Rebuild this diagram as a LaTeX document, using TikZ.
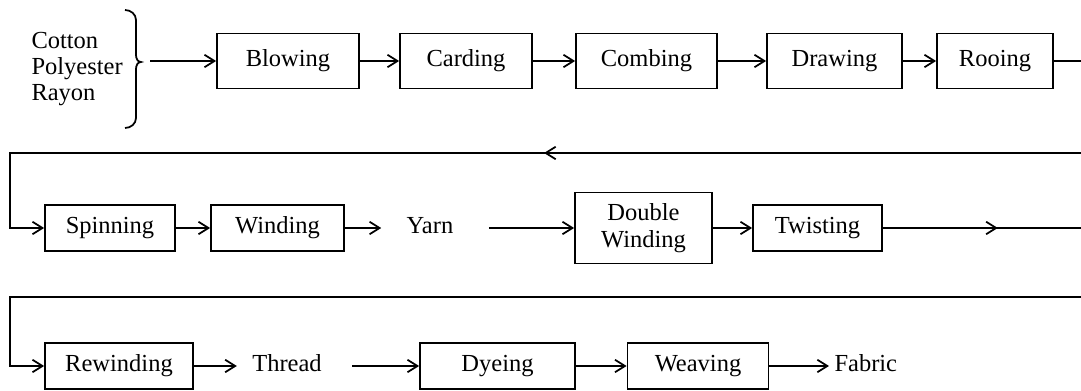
\documentclass[tikz,border=0pt]{standalone}
\usepackage{fontspec}
\setmainfont{Liberation Serif}
\usetikzlibrary{arrows.meta,decorations.markings}

\tikzstyle{stage}=[draw,line width=0.7pt,inner sep=2pt,text height=7pt,text depth=2.2pt,font=\fontsize{9.8}{10.6}\selectfont]
\tikzstyle{word}=[inner sep=2pt,text height=7pt,text depth=2.2pt,font=\fontsize{9.8}{10.6}\selectfont]
\tikzstyle{line}=[draw,line width=0.7pt]
\tikzstyle{flow}=[draw,line width=0.7pt,-{Straight Barb[length=4pt,width=5pt]}]
\tikzstyle{mid arrow}=[postaction={decorate},decoration={markings,
    mark=at position #1 with {\arrow{Straight Barb[length=4pt,width=5pt]}}}]

\begin{document}
\begin{tikzpicture}[x=0.4pt,y=-0.4pt]
    \useasboundingbox (0,0) rectangle (1081,391);

    % raw fibres and the brace that gathers them
    \node[anchor=west,align=left,inner sep=2pt,font=\fontsize{9.8}{10.4}\selectfont] (fibres) at (26,69)
        {Cotton\\Polyester\\Rayon};
    \draw[line] (125,10) to[out=0,in=90] (136,20) -- (136,55) to[out=-90,in=180] (141,62)
        to[out=180,in=90] (136,69) -- (136,118) to[out=-90,in=0] (125,128);
    \coordinate (brace) at (150,61);

    % first row
    \foreach \x/\w/\name/\txt in {288/142/blowing/Blowing, 466/132/carding/Carding,
                                  646.5/141/combing/Combing, 834.5/135/drawing/Drawing,
                                  995/116/rooing/Rooing}
        \node[stage,minimum width=\w*0.4pt,minimum height=22pt] (\name) at (\x,61) {\txt};

    % second row
    \foreach \x/\w/\name/\txt in {110/130/spinning/Spinning, 277.5/133/winding/Winding,
                                  817.5/129/twisting/Twisting}
        \node[stage,minimum width=\w*0.4pt,minimum height=18.4pt] (\name) at (\x,228) {\txt};
    \node[draw,line width=0.7pt,align=center,minimum width=137*0.4pt,minimum height=28.4pt,
          font=\fontsize{9.8}{10.6}\selectfont] (dwinding) at (643.5,228) {Double\\Winding};
    \node[word] (yarn) at (430,228) {Yarn};

    % third row
    \foreach \x/\w/\name/\txt in {119/148/rewinding/Rewinding, 497.5/155/dyeing/Dyeing,
                                  698/141/weaving/Weaving}
        \node[stage,minimum width=\w*0.4pt,minimum height=18.4pt] (\name) at (\x,366) {\txt};
    \node[word] (thread) at (287,366) {Thread};
    \node[word,anchor=west] (fabric) at (829,366) {Fabric};

    % straight runs
    \foreach \source/\dest in {brace/blowing, blowing/carding, carding/combing,
                               combing/drawing, drawing/rooing,
                               spinning/winding, dwinding/twisting,
                               dyeing/weaving, weaving/fabric}
        \path[flow] (\source) -- (\dest);
    \path[flow,shorten >=8pt] (winding) -- (yarn);
    \path[flow,shorten >=4pt] (rewinding) -- (thread);
    \path[flow,shorten <=12pt] (yarn) -- (dwinding);
    \path[flow,shorten <=10pt] (thread) -- (dyeing);

    % returns to the next row
    \coordinate (r1end) at (1081,61);
    \coordinate (r1back) at (1081,153);
    \coordinate (r1left) at (10,153);
    \coordinate (r2end) at (1081,228);
    \coordinate (r2back) at (1081,297);
    \coordinate (r2left) at (10,297);
    \path[line] (rooing) -- (r1end);
    \path[flow,mid arrow=0.455] (r1back) -- (r1left) |- (spinning);
    \path[line,mid arrow=0.58] (twisting) -- (r2end);
    \path[flow] (r2back) -- (r2left) |- (rewinding);
\end{tikzpicture}
\end{document}
